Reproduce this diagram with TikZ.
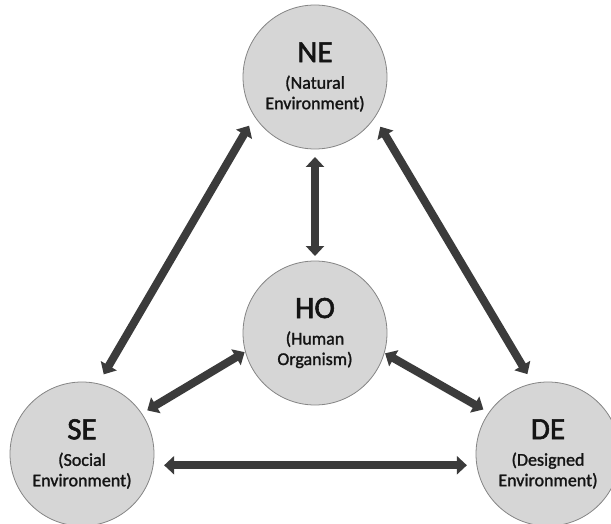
\documentclass[tikz,border=0pt]{standalone}
\usepackage{fontspec}
\setmainfont{Carlito}
\newfontfamily\discfont[FakeBold=1.4]{Carlito}
\newfontfamily\disctitlefont[FakeBold=1.8]{Carlito}
\usetikzlibrary{arrows.meta}

\definecolor{discfill}{HTML}{D6D6D6}
\definecolor{discline}{HTML}{858585}
\definecolor{linkcol}{HTML}{3B3B3B}
\definecolor{inkcol}{HTML}{141414}

% one disc: large abbreviation over a two-line spelled-out name
\newcommand{\disctext}[3]{{\disctitlefont\fontsize{31}{31}\selectfont #1}\\[6pt]#2\\#3}

\begin{document}
\begin{tikzpicture}[x=1pt,y=-1pt,
  envdisc/.style={circle, minimum size=144pt, inner sep=0pt, outer sep=0pt,
    fill=discfill, draw=discline, line width=0.8pt, text=inkcol,
    align=center, font=\discfont\fontsize{18}{20.5}\selectfont},
  twoway/.style={draw=linkcol, line width=8pt,
    {Triangle[width=18pt,length=10pt]}-{Triangle[width=18pt,length=10pt]}}
]
\useasboundingbox (0,0) rectangle (611,524);
\begin{scope}
\clip (0,0) rectangle (611,524);

\node[envdisc] (NE) at (315,77)  {\disctext{NE}{(Natural}{Environment)}};
\node[envdisc] (HO) at (315,333) {\disctext{HO}{(Human}{Organism)}};
\node[envdisc] (SE) at (82,454)  {\disctext{SE}{(Social}{Environment)}};
\node[envdisc] (DE) at (548,454) {\disctext{DE}{(Designed}{Environment)}};

% two-way links between the four environments
\draw[twoway, shorten <=8pt, shorten >=5pt] (NE.south) -- (HO.north);
\draw[twoway, shorten <=11pt, shorten >=11pt] (NE.213.6) -- (SE.77.7);
\draw[twoway, shorten <=11pt, shorten >=11pt] (NE.326.4) -- (DE.102.3);
\draw[twoway, shorten <=1pt, shorten >=6.5pt] (HO.195.8) -- (SE.34.4);
\draw[twoway, shorten <=1pt, shorten >=6.5pt] (HO.344.2) -- (DE.145.6);
\draw[twoway, shorten <=11pt, shorten >=10pt] (SE.-9.6) -- (DE.189.6);
\end{scope}
\end{tikzpicture}
\end{document}
